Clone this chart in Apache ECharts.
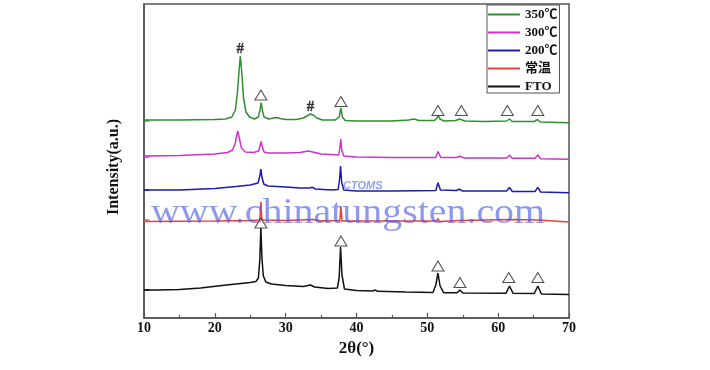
<!DOCTYPE html>
<html>
<head>
<meta charset="utf-8">
<script src="https://cdn.jsdelivr.net/npm/echarts@6/dist/echarts.min.js"></script>
<style>html,body{margin:0;padding:0;background:#fff}#c{width:710px;height:370px}</style>
</head>
<body>
<div id="c"></div>
<script>
// ---- data (2θ in degrees, intensity in arbitrary units, curves already offset as in figure) ----
var seriesNames = ['350℃', '300℃', '200℃', '常温', 'FTO'];
var s350 = [[10,198],[15,198],[20,198.5],[21.5,199],[22.4,201],[22.9,208],[23.2,226],[23.45,250],[23.6,262],[23.8,246],[24.05,220],[24.4,206],[24.9,201],[25.6,199],[26.15,201],[26.38,208],[26.55,215.5],[26.72,207],[26.95,201],[27.6,199],[28.3,200],[28.7,200.5],[29.2,199.5],[30,198.5],[31.5,198.5],[32.5,200],[33.0,202],[33.5,204],[33.9,203],[34.4,200],[35.2,198],[37.0,198],[37.55,201],[37.8,210],[38.0,201],[38.4,197.5],[40,197],[45,197],[47.4,198],[48.1,199],[48.8,197.5],[51,197.5],[51.3,199.5],[51.55,202],[51.8,199],[52.3,197],[54.0,197.5],[54.55,199],[55.3,197],[58,196.5],[61.2,197],[61.6,199],[62.0,196.5],[65.1,196.5],[65.55,198.5],[65.95,196],[70,195.3]];
var s300 = [[10,162],[15,162.5],[20,164],[21.8,165.5],[22.5,168],[22.9,175],[23.1,183],[23.25,187],[23.45,180],[23.75,170],[24.3,166],[25.5,165.5],[26.2,167],[26.4,173],[26.55,176.5],[26.7,171],[26.95,166],[27.5,165],[30,165],[32,165.5],[33.2,167],[33.8,166],[35,164],[37.5,163],[37.65,170],[37.78,179],[37.92,168],[38.2,162],[40,161],[45,160.5],[51.2,160.5],[51.5,166.5],[51.9,160.5],[54.1,160.5],[54.6,161.7],[55.2,160],[61.2,160],[61.6,162.7],[62,159.7],[65.2,159.7],[65.6,163],[66,159.3],[70,158.7]];
var s200 = [[10,128],[15,128],[20,129.5],[23,131.5],[25,133],[26.1,135],[26.35,142],[26.5,149],[26.65,141],[26.9,134],[27.5,132],[30,131],[32,130],[33.3,130],[33.8,130.7],[34.2,129],[36.5,128],[37.4,128.5],[37.6,138],[37.75,152],[37.9,136],[38.2,128],[40,127],[45,127],[51.2,127.5],[51.5,135.3],[51.85,128],[54.1,127.5],[54.5,128.7],[55,127],[61.2,127],[61.6,130.5],[62,126.5],[65.2,126.5],[65.6,130.7],[66,126],[70,125.3]];
var sRT = [[10,96.5],[20,97],[25,97.5],[26.35,98],[26.5,116.3],[26.65,98],[30,97.5],[33.8,98.5],[35,97],[37.65,97.5],[37.8,111.5],[37.95,97],[45,97],[51.3,97],[51.5,99.5],[51.7,96.5],[54.6,97.5],[61.6,98.5],[65.6,98],[70,96]];
var sFTO = [[10,28],[12,28],[15,28.5],[18,30],[21,32.5],[23,34],[25,35.5],[25.8,36.5],[26.15,40],[26.35,58],[26.5,90],[26.65,60],[26.85,42],[27.2,36],[28,34],[30,32.5],[32.5,31.5],[33.5,33],[33.75,34.5],[34.1,31],[36,29.5],[37.3,30],[37.55,40],[37.75,71],[37.95,43],[38.3,29],[40,27.5],[42.3,27],[42.6,28.2],[43,26.7],[47,26],[50.8,25.5],[51.2,33],[51.5,45],[51.8,32],[52.3,25.3],[54.2,25.3],[54.6,28],[55,25],[61.1,24.7],[61.6,32],[62.1,24.7],[65.1,24.5],[65.6,32],[66.1,24],[70,23.5]];
var triangles350 = [[26.5,223],[37.8,216.5],[51.5,207.5],[54.8,207.5],[61.3,207.5],[65.6,207.5]];
var trianglesFTO = [[26.5,95],[37.8,77],[51.5,52],[54.6,35.5],[61.5,40.5],[65.6,40.5]];
var hashMarks = [[23.6,269],[33.5,211]];
var baselineTicks = [197, 161, 128, 98, 28];
var xTicks = [10, 20, 30, 40, 50, 60, 70];

var colors = ['#2f8f2f', '#cc33cc', '#1a1ab4', '#e8413c', '#111111'];
var curves = [s350, s300, s200, sRT, sFTO];
var serif = '"Liberation Serif","Times New Roman","Noto Sans CJK SC",serif';

var chart = echarts.init(document.getElementById('c'), null, {renderer: 'canvas'});
var series = [];
curves.forEach(function (d, i) {
  series.push({
    name: seriesNames[i], type: 'line', data: d, symbol: 'none', smooth: false,
    lineStyle: {color: colors[i], width: 1.5}, itemStyle: {color: colors[i]}, z: 3
  });
});
series.push({
  type: 'scatter', data: triangles350.concat(trianglesFTO), symbol: 'triangle', symbolSize: [12, 10],
  itemStyle: {color: 'rgba(255,255,255,0)', borderColor: '#222', borderWidth: 1}, z: 4, clip: false
});
series.push({
  type: 'scatter', data: hashMarks, symbolSize: 1, itemStyle: {color: 'rgba(0,0,0,0)'},
  label: {show: true, position: 'inside', formatter: '#', fontFamily: serif, fontWeight: 'bold', fontSize: 15, color: '#111', textBorderColor: '#111', textBorderWidth: 0.4}, z: 4
});
series.push({
  type: 'scatter', clip: false, symbol: 'rect', symbolSize: [5, 1.6], symbolOffset: [3, 0],
  data: baselineTicks.map(function (v, i) { return {value: [xTicks[0], v], itemStyle: {color: colors[i]}}; }), z: 5
});

chart.setOption({
  animation: false,
  backgroundColor: '#fff',
  grid: {left: 144, right: 141, top: 4, bottom: 52, show: true, borderColor: '#555', borderWidth: 1.5, backgroundColor: 'transparent'},
  xAxis: {
    type: 'value', min: xTicks[0], max: xTicks[xTicks.length - 1], interval: 10,
    axisLine: {show: true, lineStyle: {color: '#555', width: 1.5}},
    axisTick: {show: true, inside: true, length: 5, lineStyle: {color: '#555', width: 1.2}},
    minorTick: {show: true, splitNumber: 2, length: 3, lineStyle: {color: '#555', width: 1.2}},
    splitLine: {show: false},
    axisLabel: {fontFamily: serif, fontWeight: 'bold', fontSize: 14, color: '#111', margin: 3},
    name: '2θ(°)', nameLocation: 'middle', nameGap: 22,
    nameTextStyle: {fontFamily: serif, fontWeight: 'bold', fontSize: 17, color: '#111'}
  },
  yAxis: {
    type: 'value', min: 0, max: 314,
    axisLine: {show: true, lineStyle: {color: '#555', width: 1.5}},
    axisTick: {show: false}, axisLabel: {show: false}, splitLine: {show: false},
    name: 'Intensity(a.u.)', nameLocation: 'middle', nameGap: 22,
    nameTextStyle: {fontFamily: serif, fontWeight: 'bold', fontSize: 16, color: '#111', padding: [0, 12, 0, 0]}
  },
  legend: {
    orient: 'vertical', left: 487, top: 5, data: seriesNames,
    icon: 'rect', itemWidth: 32, itemHeight: 2, itemGap: 5,
    borderColor: '#555', borderWidth: 1, padding: [3, 2, 0, 1], backgroundColor: '#fff',
    textStyle: {fontFamily: serif, fontWeight: 'bold', fontSize: 13, color: '#111'}
  },
  graphic: [
    {type: 'text', left: 151, top: 196, z: 100, silent: true, scaleX: 1.14,
     style: {text: 'www.chinatungsten.com', font: '35px "Liberation Serif", serif', fill: 'rgba(70,90,225,0.62)'}},
    {type: 'text', left: 343, top: 180, z: 100, silent: true,
     style: {text: 'CTOMS', font: 'italic bold 11px "Liberation Sans", sans-serif', fill: 'rgba(70,100,230,0.6)'}}
  ],
  series: series
});
</script>
</body>
</html>
